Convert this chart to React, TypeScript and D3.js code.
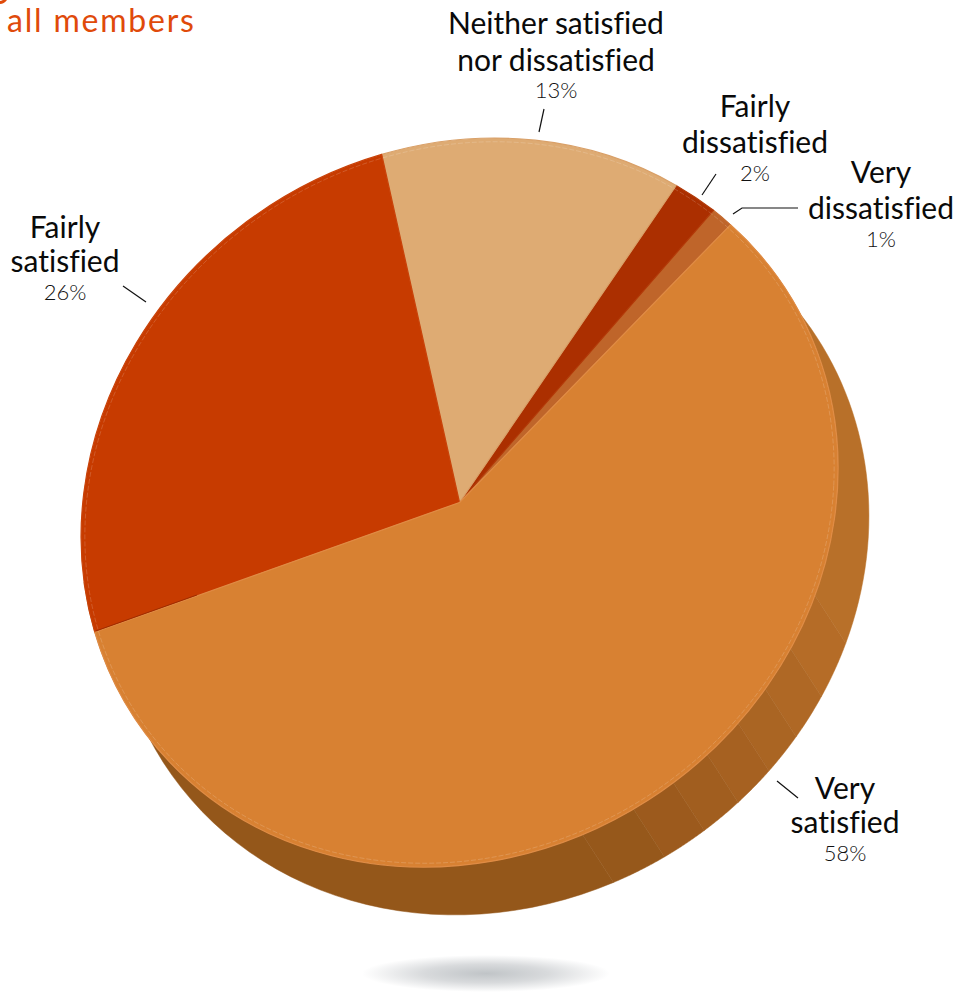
import React from "react";
import * as d3 from "d3";

// Survey responses, in the order they run clockwise round the pie.
const categories = ["Very satisfied", "Fairly satisfied", "Neither satisfied nor dissatisfied", "Fairly dissatisfied", "Very dissatisfied"];
const shares = [58, 26, 13, 2, 1];
const sliceColors = ["#d88132", "#c73b00", "#deab73", "#ab2f00", "#bf652a"];
const sliceEdges = ["#e08c45", "#c9430a", "#d9a068", "#b23a08", "#c56c32"];

// Side wall of the disc: shaded facets between these angles (degrees clockwise from north).
const facetBreaks = [40, 107.4, 116.3, 123.4, 129.9, 136.4, 142.9, 149.9, 158.3, 260];
const facetColors = ["#b87029", "#b56c27", "#af6825", "#aa6523", "#a66121", "#a15e1f", "#9c5a1d", "#96581b", "#94571a"];

// Tilted-disc projection: unit circle to page pixels.
const CX = 459.5, CY = 502.5;
const M = { a: 378, b: -17, c: -18, d: 364 };
const DEPTH = { x: 31, y: 48 };
const START_DEG = 43;

const project = (deg: number, r = 1): [number, number] => {
  const t = (deg * Math.PI) / 180;
  const ux = r * Math.sin(t), uy = -r * Math.cos(t);
  return [CX + M.a * ux + M.c * uy, CY + M.b * ux + M.d * uy];
};

const rad = (deg: number) => (deg * Math.PI) / 180;
const pie = d3.pie<number>().sort(null).value((d) => d).startAngle(rad(START_DEG)).endAngle(rad(START_DEG + 360));
const arc = d3.arc<d3.PieArcDatum<number>>().innerRadius(0).outerRadius(1);
const line = d3.line();

// Builds one wall facet: along the rim, then back along the rim shifted by the disc depth.
function facetPath(a0: number, a1: number) {
  const steps = d3.range(0, 1.0001, 1 / 40).map((t) => project(a0 + (a1 - a0) * t));
  const lower = steps.map(([x, y]) => [x + DEPTH.x, y + DEPTH.y] as [number, number]).reverse();
  return line([...steps, ...lower]) + "Z";
}

type Callout = { lines: string[]; pct: string; x: number; ys: number[]; pctY: number; leader: [number, number][] };
const callouts: Callout[] = [
  { lines: ["Neither satisfied", "nor dissatisfied"], pct: "13%", x: 556, ys: [34, 71], pctY: 98, leader: [[539, 132], [544, 109]] },
  { lines: ["Fairly", "dissatisfied"], pct: "2%", x: 755, ys: [117, 153], pctY: 181, leader: [[702, 195], [716, 174]] },
  { lines: ["Very", "dissatisfied"], pct: "1%", x: 881, ys: [183, 219], pctY: 247, leader: [[733, 214], [742, 208], [798, 208]] },
  { lines: ["Fairly", "satisfied"], pct: "26%", x: 65, ys: [238, 272], pctY: 300, leader: [[123, 286], [146, 302]] },
  { lines: ["Very", "satisfied"], pct: "58%", x: 845, ys: [799, 833], pctY: 861, leader: [[777, 781], [798, 798]] },
];

const FONT = "Lato, 'Noto Sans', sans-serif";
const TEXT_STYLE = { fontVariantLigatures: "none" } as const;

export default function App() {
  const slices = pie(shares);
  const matrix = `matrix(${M.a} ${M.b} ${M.c} ${M.d} ${CX} ${CY})`;
  const seam = slices[0].endAngle * (180 / Math.PI);
  return (
    <svg width={956} height={992} viewBox="0 0 956 992" style={{ position: "absolute", left: 0, top: 0, background: "#fff" }} role="img" aria-label={categories.join(", ")}>
      <defs>
        <radialGradient id="floorShadow">
          <stop offset="0%" stopColor="#c0c4c7" />
          <stop offset="50%" stopColor="#d8dadc" />
          <stop offset="100%" stopColor="#ffffff" />
        </radialGradient>
      </defs>

      <ellipse cx={486} cy={973.5} rx={124} ry={18.5} fill="url(#floorShadow)" />

      <path d="M0,4 Q4,4 7,0 L3,0 Q1,1 0,1 Z" fill="#e04a0a" />
      <text x={7} y={32} fontFamily={FONT} fontSize={32} letterSpacing={1.8} fill="#e04a0a" style={TEXT_STYLE}>all members</text>

      <g>
        {facetColors.map((color, i) => (
          <path key={i} d={facetPath(facetBreaks[i], facetBreaks[i + 1])} fill={color} stroke={color} strokeWidth={0.5} />
        ))}
      </g>

      <g transform={matrix}>
        {slices.map((s, i) => ({ s, i })).reverse().map(({ s, i }) => (
          <path key={i} d={arc(s) as string} fill={sliceColors[i]} stroke={sliceEdges[i]} strokeWidth={1.2} vectorEffect="non-scaling-stroke" strokeLinejoin="round" />
        ))}
        <circle r={0.99} fill="none" stroke="#fff" strokeOpacity={0.16} strokeWidth={1} strokeDasharray="5 2" vectorEffect="non-scaling-stroke" />
      </g>

      {/* Short dark seam where the red slice meets the rim at its lower end */}
      <line
        x1={project(seam, 0.72)[0]}
        y1={project(seam, 0.72)[1] - 1}
        x2={project(seam, 0.998)[0]}
        y2={project(seam, 0.998)[1] - 1}
        stroke="#9e2c00"
        strokeWidth={1}
      />

      <g fontFamily={FONT} textAnchor="middle" style={TEXT_STYLE}>
        {callouts.map((c) => (
          <g key={c.pct}>
            <polyline points={c.leader.map((p) => p.join(",")).join(" ")} fill="none" stroke="#111" strokeWidth={1.2} />
            {c.lines.map((t, i) => (
              <text key={t} x={c.x} y={c.ys[i]} fontSize={30} fill="#0a0a0a">{t}</text>
            ))}
            <text x={c.x} y={c.pctY} fontSize={22} fontWeight={300} fill="#111">{c.pct}</text>
          </g>
        ))}
      </g>
    </svg>
  );
}
